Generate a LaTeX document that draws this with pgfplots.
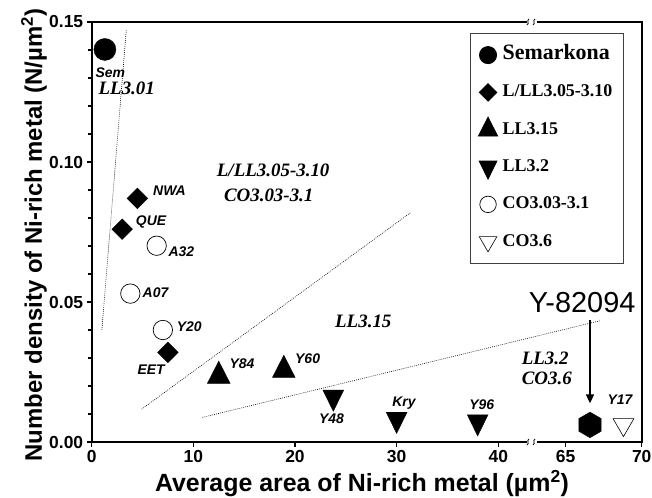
\documentclass[border=0pt]{standalone}
\usepackage{fontspec}
\setmainfont{Liberation Sans}
\newfontfamily\tnr{Liberation Serif}
\usepackage{pgfplots}
\pgfplotsset{compat=1.18}
\usetikzlibrary{arrows.meta}

\pgfdeclareplotmark{hexagon*}{%
  \pgfpathmoveto{\pgfqpointpolar{90}{\pgfplotmarksize}}%
  \pgfpathlineto{\pgfqpointpolar{150}{\pgfplotmarksize}}%
  \pgfpathlineto{\pgfqpointpolar{210}{\pgfplotmarksize}}%
  \pgfpathlineto{\pgfqpointpolar{270}{\pgfplotmarksize}}%
  \pgfpathlineto{\pgfqpointpolar{330}{\pgfplotmarksize}}%
  \pgfpathlineto{\pgfqpointpolar{30}{\pgfplotmarksize}}%
  \pgfpathclose
  \pgfusepathqfillstroke}

\newcommand\lab{\bfseries\itshape\fontsize{14}{14}\selectfont}
\newcommand\reg{\tnr\bfseries\itshape\fontsize{19}{19}\selectfont}

\begin{document}
\begin{tikzpicture}
\begin{axis}[
  scale only axis, width=550bp, height=420bp,
  xmin=0, xmax=70, ymin=0, ymax=0.15,
  x coord trafo/.code={\pgfmathparse{#1>50 ? 46.63+(#1-65)*1.496 : #1}},
  x coord inv trafo/.code={\pgfmathparse{#1>45 ? 65+(#1-46.63)/1.496 : #1}},
  xtick={0,10,20,30,40,65,70}, xticklabels={0,10,20,30,40,65,70},
  ytick={0,0.05,0.1,0.15}, yticklabels={0.00,0.05,0.10,0.15},
  minor y tick num=4,
  xtick pos=bottom, ytick pos=left, tick align=outside,
  major tick length=5bp, minor tick length=4bp,
  every tick/.style={black, line width=1.1bp},
  axis line style={line width=1.6bp},
  tick label style={font=\bfseries\fontsize{17.5}{18}\selectfont},
  /pgf/number format/assume math mode=true,
  xlabel={\bfseries Average area of Ni-rich metal (\textmu m\textsuperscript{2})},
  ylabel={\bfseries Number density of Ni-rich metal (N/\textmu m\textsuperscript{2})},
  xlabel style={font=\bfseries\fontsize{25}{25}\selectfont, at={(axis description cs:0.4915,-0.119)}, anchor=base},
  ylabel style={font=\bfseries\fontsize{24}{24}\selectfont, at={(axis description cs:-0.0904,0.493)}, anchor=base},
  clip=false,
  legend style={at={(axis description cs:0.6878,0.9745)}, anchor=north west,
    draw=black!75, line width=0.8bp,
    font=\tnr\bfseries\fontsize{18}{18}\selectfont,
    row sep=12.3bp, column sep=2bp, inner xsep=8bp, inner ysep=9.5bp,
    nodes={inner xsep=3bp, inner ysep=3bp, text height=14bp, text depth=5bp},
    cells={anchor=west}},
  legend cell align=left,
  legend image code/.code={\draw[mark repeat=2,mark phase=2,#1] plot coordinates {(0bp,0bp) (10bp,0bp) (20bp,0bp)};},
]
\addplot[black, only marks, mark=*, mark size=11bp, mark options={fill=black},
  legend image post style={/tikz/every mark/.append style={scale=0.78}}]
  coordinates {(1.3,0.1402)};
\addlegendentry{\fontsize{22}{22}\selectfont Semarkona}
\addplot[black, only marks, mark=square*, mark size=7.3bp, mark options={rotate=45, fill=black},
  legend image post style={/tikz/every mark/.append style={scale=0.85}}]
  coordinates {(4.5,0.087) (3.0,0.076) (7.5,0.032)};
\addlegendentry{L/LL3.05-3.10}
\addplot[black, only marks, mark=triangle*, mark size=13.1bp, mark options={yscale=1.13, fill=black},
  legend image post style={/tikz/every mark/.append style={scale=0.85}}]
  coordinates {(12.5,0.0236) (18.9,0.0257)};
\addlegendentry{LL3.15}
\addplot[black, only marks, mark=triangle*, mark size=12bp, mark options={rotate=180, yscale=1.18, fill=black},
  legend image post style={/tikz/every mark/.append style={scale=0.85}}]
  coordinates {(23.77,0.016) (30.0,0.0081) (37.97,0.0072)};
\addlegendentry{LL3.2}
\addplot[black, only marks, mark=*, mark size=9.7bp, mark options={fill=white, line width=0.7bp},
  legend image post style={/tikz/every mark/.append style={scale=0.85}}]
  coordinates {(6.39,0.0701) (3.8,0.053) (7.0,0.040)};
\addlegendentry{CO3.03-3.1}
\addplot[black, only marks, mark=triangle, mark size=12bp, mark options={rotate=180, line width=0.6bp},
  legend image post style={/tikz/every mark/.append style={scale=0.85}}]
  coordinates {(68.8,0.0062)};
\addlegendentry{CO3.6}
\addplot[black, only marks, mark=hexagon*, mark size=12.8bp, mark options={fill=black}, forget plot]
  coordinates {(66.6,0.0061)};
% boundary lines
\addplot[black, line width=0.6bp, dash pattern=on 0.8bp off 1.2bp, forget plot] coordinates {(1.0,0.040) (3.4,0.147)};
\addplot[black, line width=0.6bp, dash pattern=on 0.8bp off 1.2bp, forget plot] coordinates {(4.9,0.0117) (31.4,0.082)};
\addplot[black, line width=0.6bp, dash pattern=on 0.8bp off 1.2bp, forget plot] coordinates {(10.9,0.0088) (67.25,0.0433)};
\draw[line width=1.6bp, -{Triangle[length=9bp, width=8bp]}] (axis cs:66.6,0.0434) -- (axis cs:66.6,0.0138);
% sample labels
\node[font=\lab] at (axis cs:1.83,0.132) {Sem};
\node[font=\lab, anchor=west, inner sep=0] at (axis cs:6.03,0.0897) {NWA};
\node[font=\lab, anchor=west, inner sep=0] at (axis cs:4.33,0.0787) {QUE};
\node[font=\lab, anchor=west, inner sep=0] at (axis cs:7.54,0.0681) {A32};
\node[font=\lab, anchor=west, inner sep=0] at (axis cs:5.0,0.0533) {A07};
\node[font=\lab, anchor=west, inner sep=0] at (axis cs:8.36,0.0412) {Y20};
\node[font=\lab] at (axis cs:5.85,0.0259) {EET};
\node[font=\lab, anchor=west, inner sep=0] at (axis cs:13.54,0.0279) {Y84};
\node[font=\lab, anchor=west, inner sep=0] at (axis cs:20.0,0.0298) {Y60};
\node[font=\lab] at (axis cs:23.6,0.00846) {Y48};
\node[font=\lab] at (axis cs:30.72,0.0138) {Kry};
\node[font=\lab] at (axis cs:38.37,0.01346) {Y96};
\node[font=\lab] at (axis cs:68.57,0.015) {Y17};
\node[font=\fontsize{29}{29}\selectfont, anchor=base east, inner sep=0] at (axis cs:69.6,0.0461) {Y-82094};
% region labels
\node[font=\reg] at (axis cs:3.45,0.1263) {LL3.01};
\node[font=\reg, anchor=west, inner sep=0] at (axis cs:12.3,0.0971) {L/LL3.05-3.10};
\node[font=\reg, anchor=west, inner sep=0] at (axis cs:13.0,0.0882) {CO3.03-3.1};
\node[font=\reg] at (axis cs:26.72,0.043) {LL3.15};
\node[font=\reg, anchor=west, inner sep=0] at (axis cs:42.3,0.0299) {LL3.2};
\node[font=\reg, anchor=west, inner sep=0] at (axis cs:42.3,0.0227) {CO3.6};
\coordinate (SW) at (rel axis cs:0,0);
\coordinate (NE) at (rel axis cs:1,1);
\coordinate (BB) at (axis cs:43.12,0);
\coordinate (BT) at (axis cs:43.12,0.15);
\end{axis}
\foreach \c in {BB,BT} {
  \fill[white] ([shift={(-3bp,-2.5bp)}]\c) rectangle ([shift={(7bp,2.5bp)}]\c);
  \draw[line width=0.8bp] ([shift={(-3bp,-3bp)}]\c) .. controls ([shift={(0bp,-1bp)}]\c) and ([shift={(-4bp,1bp)}]\c) .. ([shift={(-1bp,3bp)}]\c);
  \draw[line width=0.8bp] ([shift={(3bp,-3bp)}]\c) .. controls ([shift={(6bp,-1bp)}]\c) and ([shift={(2bp,1bp)}]\c) .. ([shift={(5bp,3bp)}]\c);
}
\pgfresetboundingbox
\path[use as bounding box] ([shift={(-91.7bp,-56bp)}]SW) rectangle ([shift={(10.3bp,22bp)}]NE);
\end{tikzpicture}
\end{document}
